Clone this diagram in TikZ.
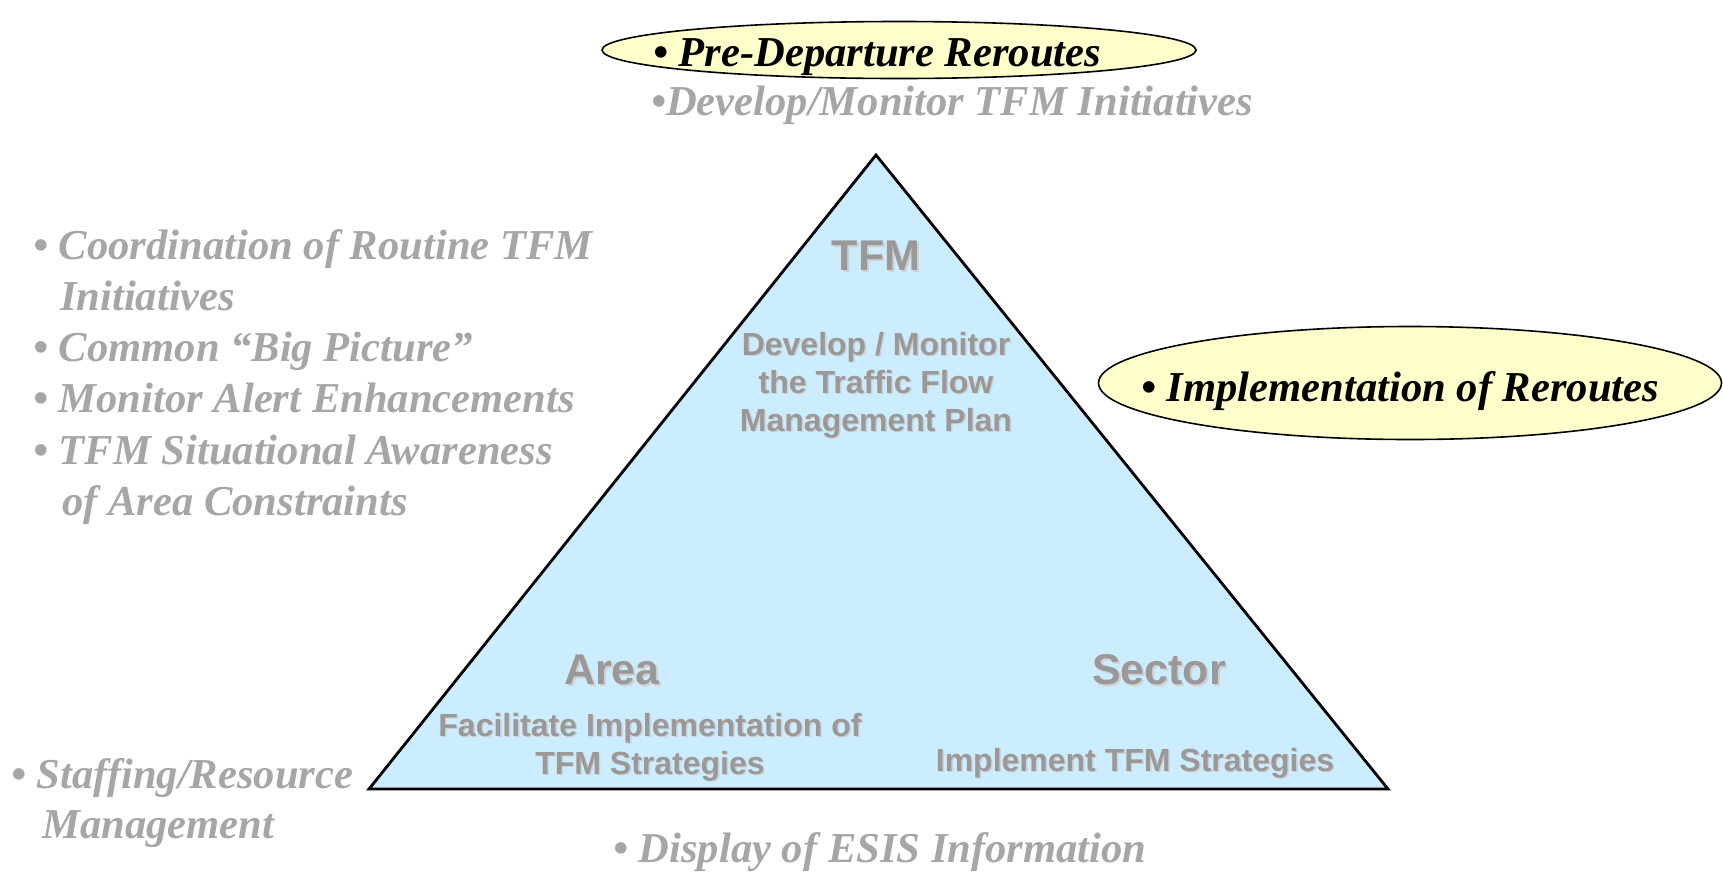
\documentclass[tikz,border=0pt]{standalone}
\usepackage{fontspec}
\setmainfont{Liberation Serif}
\setsansfont{Liberation Sans}
\usetikzlibrary{shapes.geometric}
\definecolor{lgray}{HTML}{A6A6A6}
\definecolor{tgray}{HTML}{999999}
\definecolor{sgray}{HTML}{D0D0D0}
\definecolor{triblue}{HTML}{CCECFF}
\definecolor{ellyellow}{HTML}{FFFFCC}
\tikzset{
  oval/.style={ellipse, draw=black, line width=1.6pt, fill=ellyellow, inner sep=0},
  ovaltext/.style={font=\fontsize{42.6}{48}\selectfont\bfseries\itshape, text=black, anchor=base west, inner sep=0},
  note/.style={font=\fontsize{42.6}{48}\selectfont\bfseries\itshape, text=lgray, anchor=base west, inner sep=0},
  title/.style={font=\fontsize{43}{46}\selectfont\sffamily\bfseries, text=tgray, inner sep=0},
  body/.style={font=\fontsize{32}{38}\selectfont\sffamily\bfseries, text=tgray, inner sep=0, align=center},
}
\begin{document}
\begin{tikzpicture}[x=1pt,y=-1pt]
\useasboundingbox (0,0) rectangle (1723,871);
% triangle
\coordinate (apex) at (876,155);
\coordinate (bl) at (369,789);
\coordinate (br) at (1388,789);
\draw[fill=triblue, line width=2.8pt, line join=miter] (apex) -- (br) -- (bl) -- cycle;
% ovals
\node[oval, minimum width=594, minimum height=57] (pdr) at (899,50) {};
\node[ovaltext] (pdrt) at (653,66) {• Pre-Departure Reroutes};
\node[oval, minimum width=623, minimum height=113] (imp) at (1410,383) {};
\node[ovaltext] (impt) at (1141,401) {• Implementation of Reroutes};
% gray notes
\node[note] (dev) at (651,115) {•Develop/Monitor TFM Initiatives};
\node[note] (c1) at (33,259) {• Coordination of Routine TFM};
\node[note] (c2) at (60,310) {Initiatives};
\node[note] (c3) at (33,361) {• Common “Big Picture”};
\node[note] (c4) at (33,412) {• Monitor Alert Enhancements};
\node[note] (c5) at (33,464) {• TFM Situational Awareness};
\node[note] (c6) at (62,515) {of Area Constraints};
\node[note] (s1) at (11,788) {• Staffing/Resource};
\node[note] (s2) at (42,838) {Management};
\node[note] (esis) at (613,862) {• Display of ESIS Information};
% triangle texts
\node[title, text=sgray] at (878,258) {TFM};
\node[title] (tfm) at (876,256) {TFM};
\node[body, text=sgray] at (877.5,386.5) {Develop / Monitor\\the Traffic Flow\\Management Plan};
\node[body] (tfmb) at (876,385) {Develop / Monitor\\the Traffic Flow\\Management Plan};
\node[title, text=sgray] at (614,672) {Area};
\node[title] (area) at (612,670) {Area};
\node[title, text=sgray] at (1161,672) {Sector};
\node[title] (sector) at (1159,670) {Sector};
\node[body, text=sgray] at (651.5,748.5) {Facilitate Implementation of\\TFM Strategies};
\node[body] (areab) at (650,747) {Facilitate Implementation of\\TFM Strategies};
\node[body, text=sgray] at (1136.5,764.5) {Implement TFM Strategies};
\node[body] (sectorb) at (1135,763) {Implement TFM Strategies};
\end{tikzpicture}
\end{document}
